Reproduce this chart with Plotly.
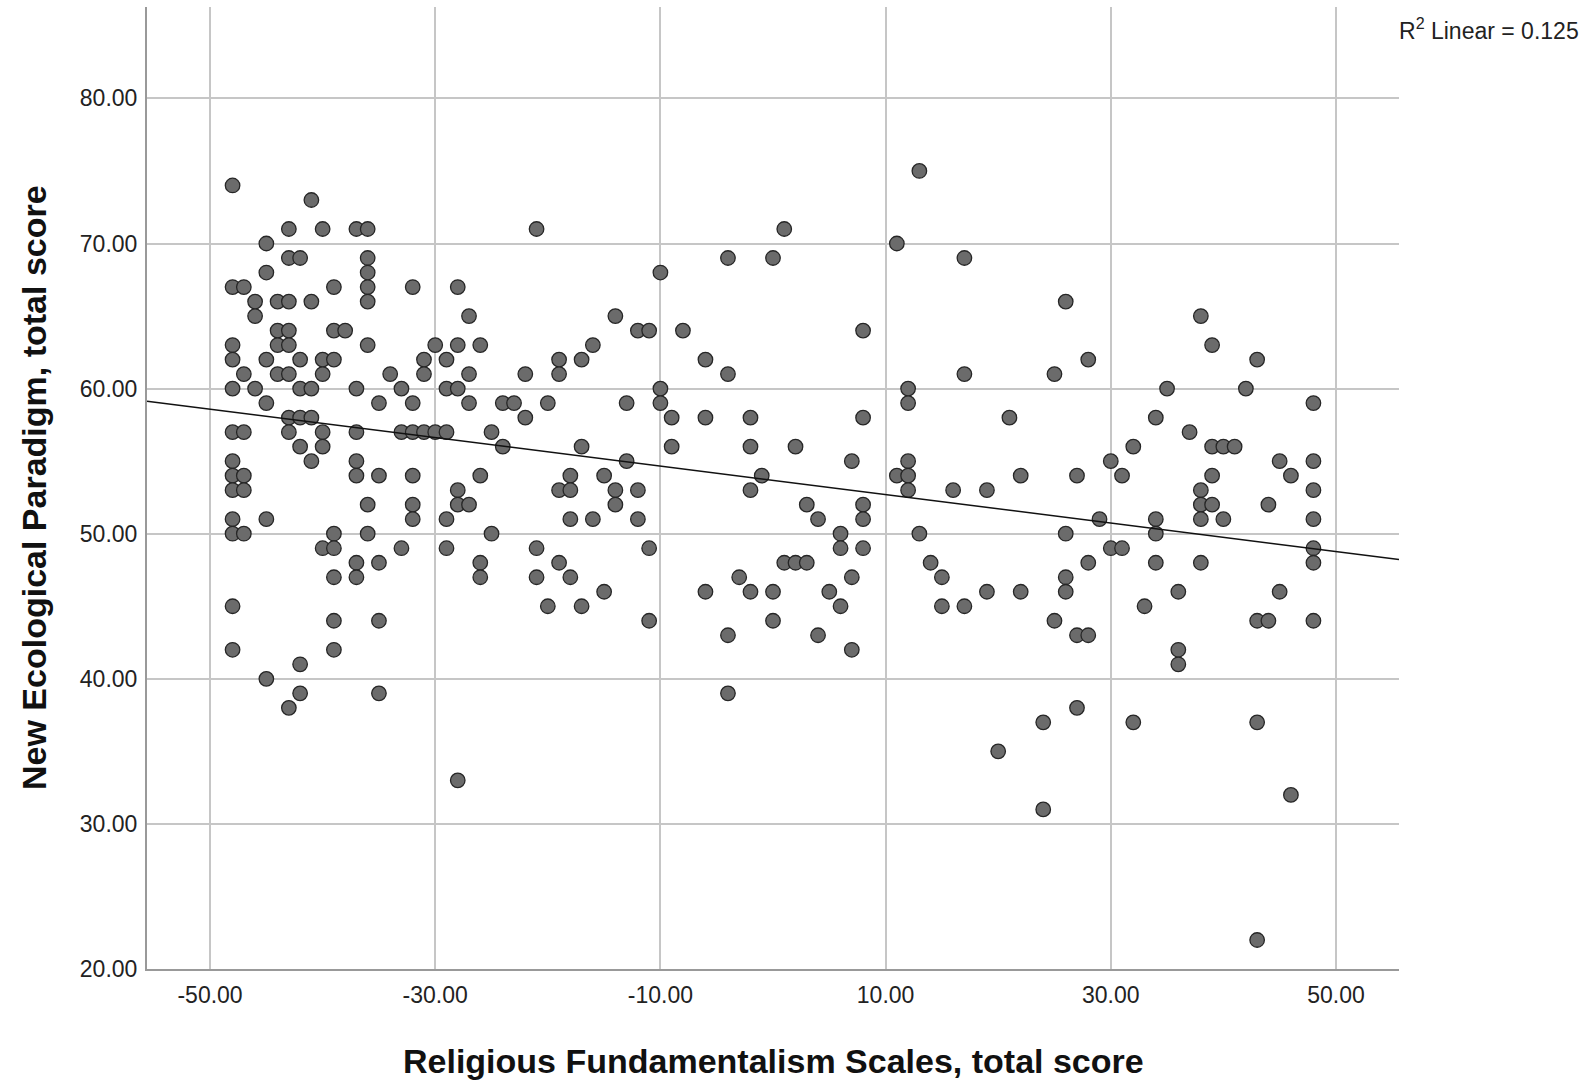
import plotly.graph_objects as go

# Religious Fundamentalism (x) and NEP total score (y)
rf_score = [
    -48, -41, -43, -40, -37, -36, -45, -43, -42, -36, -45, -36, -48, -47, -39, -36, -32, -28,
    -46, -44, -43, -41, -36, -46, -44, -43, -39, -38, -48, -44, -43, -36, -30, -28,
    -48, -45, -42, -40, -39, -31, -29, -47, -44, -43, -40, -34, -31,
    -48, -46, -42, -41, -37, -33, -29, -28, -45, -35, -32, -43, -42, -41,
    -48, -47, -43, -40, -37, -33, -32, -31, -30, -29, -42, -40,
    -41, -37, -48, -48, -47, -37, -35, -32, -48, -47, -28, -28, -36, -32,
    -48, -45, -32, -29, -48, -47, -39, -36, -40, -39, -33, -29, -37, -35,
    -39, -37, -48, -39, -35, -48, -39, -42, -45, -42, -35, -43, -28,
    -21, -4, -10, -27, -14, -12, -11, -8, -26, -16, -19, -19, -17, -6, -27, -22, -4,
    -10, -10, -27, -24, -23, -20, -13, -22, -9, -6, -2, -25, -24, -17, -9, -2, -13,
    -26, -18, -15, -19, -18, -14, -12, -2,
    -27, -14, -18, -16, -12, -25, -21, -11, -26, -26, -19, -21, -18, -15, -20, -17,
    -11, -6, -3, -2, -4, -4,
    13, 1, 11, 0, 17, 26, 8, 17, 25, 12, 12, 8, 21, 2, 7, 12, -1, 11, 12, 22,
    12, 16, 19, 3, 8, 8, 4, 6, 13, 26, 6, 8, 1, 2, 3, 14, 7, 15, 26, 0, 5, 19, 22, 26,
    6, 15, 17, 0, 25, 4, 7, 24, 20, 24,
    38, 39, 28, 43, 35, 42, 48, 34, 37, 39, 40, 41, 32, 30, 45, 48, 27, 31, 39, 46,
    38, 48, 38, 39, 44, 29, 34, 38, 40, 48, 34, 30, 31, 48, 28, 34, 38, 48,
    36, 45, 33, 43, 44, 48, 27, 28, 36, 36, 27, 32, 43, 46, 43,
]
nep_score = [
    74, 73, 71, 71, 71, 71, 70, 69, 69, 69, 68, 68, 67, 67, 67, 67, 67, 67,
    66, 66, 66, 66, 66, 65, 64, 64, 64, 64, 63, 63, 63, 63, 63, 63,
    62, 62, 62, 62, 62, 62, 62, 61, 61, 61, 61, 61, 61,
    60, 60, 60, 60, 60, 60, 60, 60, 59, 59, 59, 58, 58, 58,
    57, 57, 57, 57, 57, 57, 57, 57, 57, 57, 56, 56,
    55, 55, 55, 54, 54, 54, 54, 54, 53, 53, 53, 52, 52, 52,
    51, 51, 51, 51, 50, 50, 50, 50, 49, 49, 49, 49, 48, 48,
    47, 47, 45, 44, 44, 42, 42, 41, 40, 39, 39, 38, 33,
    71, 69, 68, 65, 65, 64, 64, 64, 63, 63, 62, 61, 62, 62, 61, 61, 61,
    60, 59, 59, 59, 59, 59, 59, 58, 58, 58, 58, 57, 56, 56, 56, 56, 55,
    54, 54, 54, 53, 53, 53, 53, 53,
    52, 52, 51, 51, 51, 50, 49, 49, 48, 47, 48, 47, 47, 46, 45, 45,
    44, 46, 47, 46, 43, 39,
    75, 71, 70, 69, 69, 66, 64, 61, 61, 60, 59, 58, 58, 56, 55, 55, 54, 54, 54, 54,
    53, 53, 53, 52, 52, 51, 51, 50, 50, 50, 49, 49, 48, 48, 48, 48, 47, 47, 47, 46, 46, 46, 46, 46,
    45, 45, 45, 44, 44, 43, 42, 37, 35, 31,
    65, 63, 62, 62, 60, 60, 59, 58, 57, 56, 56, 56, 56, 55, 55, 55, 54, 54, 54, 54,
    53, 53, 52, 52, 52, 51, 51, 51, 51, 51, 50, 49, 49, 49, 48, 48, 48, 48,
    46, 46, 45, 44, 44, 44, 43, 43, 42, 41, 38, 37, 37, 32, 22,
]

# Fit line (R^2 linear = 0.125)
fit_intercept = 53.68
fit_slope = -0.0981
r2_text = "R<sup>2</sup> Linear = 0.125"

x_range = [-55.6, 55.6]
y_range = [20, 86.3]
x_ticks = [-50, -30, -10, 10, 30, 50]
y_ticks = [20, 30, 40, 50, 60, 70, 80]
x_ticktext = [f"{v:.2f}" for v in x_ticks]
y_ticktext = [f"{v:.2f}" for v in y_ticks]

x_title = "Religious Fundamentalism Scales, total score"
y_title = "New Ecological Paradigm, total score"

FONT = "Liberation Sans, Arial, sans-serif"

fig = go.Figure()

fig.add_trace(go.Scatter(
    x=rf_score, y=nep_score, mode="markers",
    marker=dict(size=14.5, color="#6b6b6b", line=dict(color="#262626", width=1.3)),
    hoverinfo="x+y",
))

line_x = list(x_range)
line_y = [fit_intercept + fit_slope * v for v in line_x]
fig.add_trace(go.Scatter(
    x=line_x, y=line_y, mode="lines",
    line=dict(color="#111111", width=1.5),
    hoverinfo="skip",
))

fig.update_layout(
    width=1591, height=1080,
    margin=dict(l=147, r=192, t=7, b=111, pad=0),
    plot_bgcolor="white", paper_bgcolor="white",
    showlegend=False,
    font=dict(family=FONT, color="#222222"),
    xaxis=dict(
        range=x_range, tickvals=x_ticks, ticktext=x_ticktext,
        showgrid=True, gridcolor="#c6c6c6", gridwidth=1.5,
        showline=True, linecolor="#999999", linewidth=2,
        zeroline=False, ticks="", tickfont=dict(size=23, family=FONT, color="#222222"),
        ticklabelstandoff=4,
    ),
    yaxis=dict(
        range=y_range, tickvals=y_ticks, ticktext=y_ticktext,
        showgrid=True, gridcolor="#c6c6c6", gridwidth=1.5,
        showline=True, linecolor="#999999", linewidth=2,
        zeroline=False, ticks="", tickfont=dict(size=23, family=FONT, color="#222222"),
        ticklabelstandoff=3,
    ),
    annotations=[
        dict(text=x_title, xref="paper", yref="paper", x=0.5, y=0,
             xanchor="center", yanchor="middle", yshift=-92, showarrow=False,
             font=dict(size=34, family=FONT, color="#111111", weight="bold")),
        dict(text=y_title, xref="paper", yref="paper", x=0, y=0.5,
             xanchor="center", yanchor="middle", xshift=-113, textangle=-90, showarrow=False,
             font=dict(size=34, family=FONT, color="#111111", weight="bold")),
        dict(text=r2_text, xref="paper", yref="paper", x=1, y=1,
             xanchor="left", yanchor="middle", xshift=-2, yshift=-22, showarrow=False,
             font=dict(size=23, family=FONT, color="#222222")),
    ],
)

fig.write_html("out.html")
